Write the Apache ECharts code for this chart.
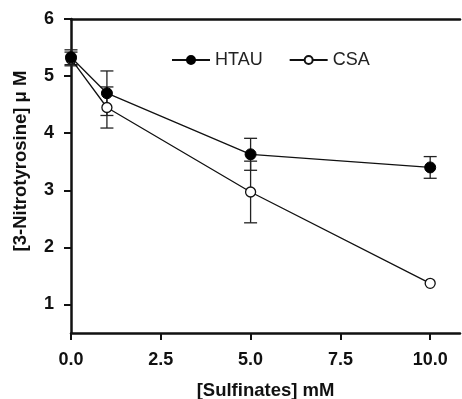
<!DOCTYPE html>
<html>
<head>
<meta charset="utf-8">
<script src="https://cdn.jsdelivr.net/npm/echarts@6/dist/echarts.min.js"></script>
<style>
  html, body { margin: 0; padding: 0; background: #fff; }
  #chart { width: 462px; height: 399px; }
</style>
</head>
<body>
<div id="chart"></div>
<script>
// sulfinate concentrations (mM)
const doses = [0, 1, 5, 10]
// 3-nitrotyrosine (uM) and SEM
const htau = [5.33, 4.70, 3.63, 3.40]
const htauErr = [0.13, 0.39, 0.28, 0.19]
const csa = [5.30, 4.45, 2.97, 1.37]
const csaErr = [0.12, 0.36, 0.54, 0]

const xTicks = [0, 2.5, 5, 7.5, 10]
const yTicks = [1, 2, 3, 4, 5, 6]

const font = "'Liberation Sans', Arial, sans-serif"
const ink = "#111"

const chart = echarts.init(document.getElementById("chart"), null, { renderer: "canvas" })

function errorSeries(name, vals, errs, z) {
  return {
    name: name + "-err",
    type: "custom",
    z: z,
    silent: true,
    data: doses.map((d, i) => [d, vals[i] - errs[i], vals[i] + errs[i]]),
    renderItem: (params, api) => {
      const x = api.coord([api.value(0), api.value(1)])[0]
      const lo = api.coord([api.value(0), api.value(1)])[1]
      const hi = api.coord([api.value(0), api.value(2)])[1]
      if (Math.abs(hi - lo) < 1) return null
      const w = 6.5
      const style = { stroke: "#222", lineWidth: 1.3 }
      return {
        type: "group",
        children: [
          { type: "line", shape: { x1: x, y1: lo, x2: x, y2: hi }, style },
          { type: "line", shape: { x1: x - w, y1: lo, x2: x + w, y2: lo }, style },
          { type: "line", shape: { x1: x - w, y1: hi, x2: x + w, y2: hi }, style },
        ],
      }
    },
  }
}

chart.setOption({
  animation: false,
  grid: { left: 71, right: 2, top: 19, bottom: 66, outerBoundsMode: "none", containLabel: false },
  legend: {
    left: 166,
    top: 46,
    itemWidth: 38,
    itemHeight: 10,
    itemGap: 26,
    textStyle: { fontFamily: font, fontSize: 18, color: "#222" },
    data: ["HTAU", "CSA"],
  },
  xAxis: [
    {
      type: "value",
      min: 0,
      max: 10.83,
      position: "bottom",
      splitLine: { show: false },
      axisLine: { show: true, onZero: false, lineStyle: { color: ink, width: 2.5 } },
      axisTick: { show: true, customValues: xTicks, length: 7, lineStyle: { color: ink, width: 2 } },
      axisLabel: {
        customValues: xTicks,
        margin: 18,
        fontFamily: font,
        fontSize: 18,
        fontWeight: "bold",
        color: ink,
        formatter: (v) => v.toFixed(1),
      },
      name: "[Sulfinates] mM",
      nameLocation: "middle",
      nameGap: 48,
      nameTextStyle: { fontFamily: font, fontSize: 18.5, fontWeight: "bold", color: ink },
    },
    {
      type: "value",
      min: 0,
      max: 10.83,
      position: "top",
      splitLine: { show: false },
      axisLine: { show: true, onZero: false, lineStyle: { color: ink, width: 2.5 } },
      axisTick: { show: false },
      axisLabel: { show: false },
    },
  ],
  yAxis: {
    type: "value",
    min: 0.5,
    max: 6,
    splitLine: { show: false },
    axisLine: { show: true, onZero: false, lineStyle: { color: ink, width: 2.5 } },
    axisTick: { show: true, customValues: yTicks, length: 7, lineStyle: { color: ink, width: 2 } },
    axisLabel: {
      customValues: yTicks,
      margin: 17,
      fontFamily: font,
      fontSize: 18,
      fontWeight: "bold",
      color: ink,
    },
    name: "[3-Nitrotyrosine] μ M",
    nameLocation: "middle",
    nameGap: 41,
    nameRotate: 90,
    nameTextStyle: { fontFamily: font, fontSize: 18.5, fontWeight: "bold", color: ink, padding: [0, 0, 0, 30] },
  },
  series: [
    errorSeries("CSA", csa, csaErr, 2),
    errorSeries("HTAU", htau, htauErr, 3),
    {
      name: "CSA",
      type: "line",
      z: 4,
      data: doses.map((d, i) => [d, csa[i]]),
      symbol: "circle",
      symbolSize: 10,
      showAllSymbol: true,
      lineStyle: { color: ink, width: 1.3 },
      itemStyle: { color: "#fff", borderColor: ink, borderWidth: 1.3 },
    },
    {
      name: "HTAU",
      type: "line",
      z: 5,
      data: doses.map((d, i) => [d, htau[i]]),
      symbol: "circle",
      symbolSize: 11,
      showAllSymbol: true,
      lineStyle: { color: ink, width: 1.3 },
      itemStyle: { color: "#000", borderColor: "#000", borderWidth: 1 },
    },
  ],
})
</script>
</body>
</html>
